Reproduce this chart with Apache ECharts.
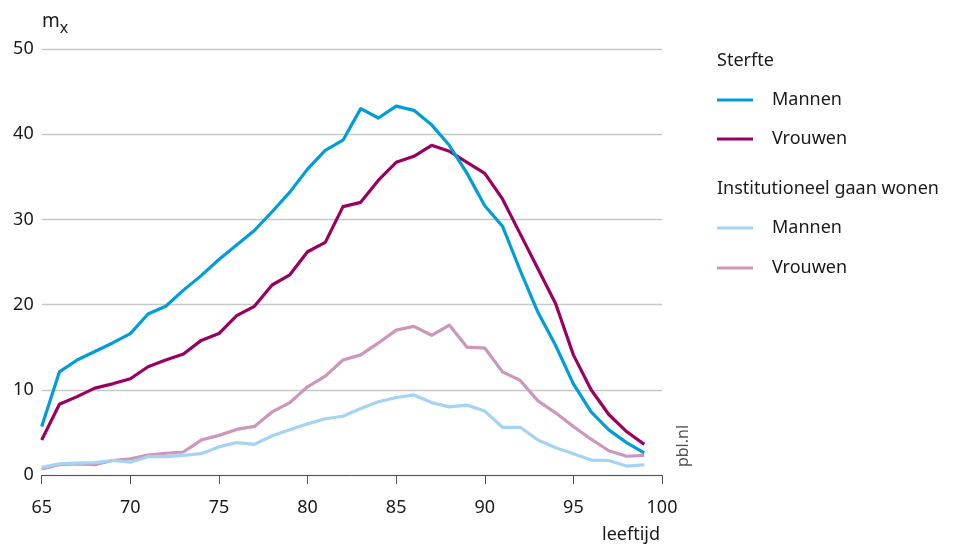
<!DOCTYPE html>
<html><head><meta charset="utf-8">
<script src="https://cdn.jsdelivr.net/npm/echarts@6/dist/echarts.min.js"></script>
<style>html,body{margin:0;padding:0;background:#fff}#c{width:960px;height:545px}</style>
</head><body><div id="c"></div>
<script>
const ages = [65,66,67,68,69,70,71,72,73,74,75,76,77,78,79,80,81,82,83,84,85,86,87,88,89,90,91,92,93,94,95,96,97,98,99];
const sterfteMannen = [5.7,12.1,13.5,14.5,15.5,16.6,18.9,19.8,21.7,23.4,25.3,27.0,28.7,30.9,33.2,35.9,38.1,39.3,43.0,41.9,43.3,42.8,41.1,38.7,35.4,31.6,29.2,24.0,19.1,15.2,10.7,7.4,5.3,3.8,2.6];
const sterfteVrouwen = [4.1,8.3,9.2,10.2,10.7,11.3,12.7,13.5,14.2,15.8,16.6,18.7,19.8,22.3,23.5,26.2,27.3,31.5,32.0,34.6,36.7,37.4,38.7,38.0,36.7,35.4,32.4,28.3,24.2,20.1,14.1,10.0,7.1,5.1,3.6];
const instMannen = [0.9,1.3,1.4,1.45,1.7,1.5,2.15,2.15,2.3,2.5,3.3,3.8,3.6,4.6,5.3,6.0,6.6,6.9,7.8,8.6,9.1,9.4,8.5,8.0,8.2,7.5,5.6,5.6,4.1,3.2,2.5,1.75,1.7,1.05,1.2];
const instVrouwen = [0.7,1.2,1.3,1.2,1.7,1.9,2.35,2.55,2.7,4.1,4.65,5.35,5.7,7.4,8.5,10.35,11.6,13.5,14.1,15.5,17.0,17.45,16.4,17.6,15.0,14.9,12.1,11.1,8.7,7.3,5.7,4.2,2.85,2.2,2.3];
const yTicks = [0,10,20,30,40,50];
const xTicks = [65,70,75,80,85,90,95,100];

const cols = {sm:'#009ddb', sv:'#990060', im:'#a5d3f3', iv:'#cc97b9'};
const font = '"Noto Sans", sans-serif';
function pairs(v){return ages.map((a,i)=>[a,v[i]]);}
function ser(name,data,color,z){
  return {name:name,type:'line',data:pairs(data),showSymbol:false,symbol:'none',z:z,
    lineStyle:{color:color,width:3.2,join:'round'},itemStyle:{color:color}};
}
const chart = echarts.init(document.getElementById('c'));
const legendX = 717;
function legLine(y,color){return {type:'line',shape:{x1:legendX,y1:y,x2:legendX+36,y2:y},style:{stroke:color,lineWidth:3.2}};}
function legText(x,y,t){return {type:'text',x:x,y:y,style:{text:t,font:'18px '+font,fill:'#1a1a1a',textVerticalAlign:'middle'}};}
chart.setOption({
  animation:false,
  grid:{left:41.7,right:298,top:49,bottom:70},
  xAxis:{type:'value',min:65,max:100,interval:5,
    axisLine:{show:true,lineStyle:{color:'#555',width:1}},
    axisTick:{show:true,length:9,lineStyle:{color:'#555'}},
    axisLabel:{color:'#1a1a1a',fontSize:18,fontFamily:font,margin:24,
      formatter:v=>xTicks.includes(v)?String(v):''},
    splitLine:{show:false}},
  yAxis:{type:'value',min:0,max:50,interval:10,
    axisLine:{show:false},axisTick:{show:false},
    axisLabel:{color:'#1a1a1a',fontSize:18,fontFamily:font,margin:8,
      formatter:v=>yTicks.includes(v)?String(v):''},
    splitLine:{lineStyle:{color:'#c8c8c8',width:1.3}}},
  series:[
    ser('Institutioneel Vrouwen',instVrouwen,cols.iv,2),
    ser('Institutioneel Mannen',instMannen,cols.im,3),
    ser('Sterfte Vrouwen',sterfteVrouwen,cols.sv,4),
    ser('Sterfte Mannen',sterfteMannen,cols.sm,5)
  ],
  graphic:[
    {type:'text',x:42,y:8,style:{rich:{m:{fontSize:19,fontFamily:font,fill:'#1a1a1a'},s:{fontSize:16,fontFamily:font,fill:'#1a1a1a',padding:[12,0,0,0]}},text:'{m|m}{s|x}',fill:'#1a1a1a'}},
    {type:'text',x:660,y:535,style:{text:'leeftijd',font:'18px '+font,fill:'#1a1a1a',textAlign:'right',textVerticalAlign:'middle'}},
    {type:'text',x:683,y:446,rotation:Math.PI/2,style:{text:'pbl.nl',font:'16px '+font,fill:'#555',textAlign:'center',textVerticalAlign:'middle'}},
    legText(legendX,61,'Sterfte'),
    legLine(100,cols.sm),legText(772,100,'Mannen'),
    legLine(139,cols.sv),legText(772,139,'Vrouwen'),
    legText(legendX,189,'Institutioneel gaan wonen'),
    legLine(228,cols.im),legText(772,228,'Mannen'),
    legLine(268,cols.iv),legText(772,268,'Vrouwen')
  ]
});
</script></body></html>
